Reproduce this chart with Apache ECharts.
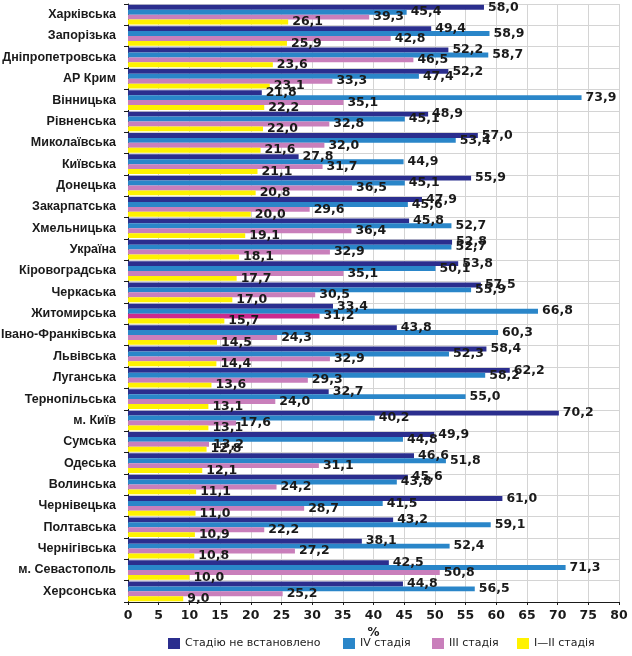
<!DOCTYPE html>
<html>
<head>
<meta charset="utf-8">
<script src="https://cdn.jsdelivr.net/npm/echarts@6/dist/echarts.min.js"></script>
<style>
html,body{margin:0;padding:0;background:#fff;}
#c{width:632px;height:656px;}
</style>
</head>
<body>
<div id="c"></div>
<script>
const categories = ['Харківська','Запорізька','Дніпропетровська','АР Крим','Вінницька','Рівненська','Миколаївська','Київська','Донецька','Закарпатська','Хмельницька','Україна','Кіровоградська','Черкаська','Житомирська','Івано-Франківська','Львівська','Луганська','Тернопільська','м. Київ','Сумська','Одеська','Волинська','Чернівецька','Полтавська','Чернігівська','м. Севастополь','Херсонська'];
const stageUnknown = [58.0,49.4,52.2,52.2,21.8,48.9,57.0,27.8,55.9,47.9,45.8,52.8,53.8,57.5,33.4,43.8,58.4,62.2,32.7,70.2,49.9,46.6,45.6,61.0,43.2,38.1,42.5,44.8];
const stageIV = [45.4,58.9,58.7,47.4,73.9,45.1,53.4,44.9,45.1,45.6,52.7,52.7,50.1,55.9,66.8,60.3,52.3,58.2,55.0,40.2,44.8,51.8,43.8,41.5,59.1,52.4,71.3,56.5];
const stageIII = [39.3,42.8,46.5,33.3,35.1,32.8,32.0,31.7,36.5,29.6,36.4,32.9,35.1,30.5,31.2,24.3,32.9,29.3,24.0,17.6,13.2,31.1,24.2,28.7,22.2,27.2,50.8,25.2];
const stageI_II = [26.1,25.9,23.6,23.1,22.2,22.0,21.6,21.1,20.8,20.0,19.1,18.1,17.7,17.0,15.7,14.5,14.4,13.6,13.1,13.1,12.8,12.1,11.1,11.0,10.9,10.8,10.0,9.0];
const seriesNames = ['Стадію не встановлено','IV стадія','III стадія','I—II стадія'];
const xTicks = [0,5,10,15,20,25,30,35,40,45,50,55,60,65,70,75,80];
const highlighted = 'Житомирська';

const colors = ['#2b2e8e','#2a86c9','#c97fbb','#fff200'];
const highlightPink = '#cc2a8e';
const fontLbl = '"DejaVu Sans", sans-serif';
const fontCat = '"Liberation Sans", Arial, sans-serif';

function mkSeries(name, values, color, highlightColor) {
  return {
    name: name,
    type: 'bar',
    barGap: '0%',
    barCategoryGap: '8%',
    itemStyle: { color: color },
    data: values.map((v, i) => {
      if (highlightColor && categories[i] === highlighted) {
        return { value: v, itemStyle: { color: highlightColor } };
      }
      return v;
    }),
    label: {
      show: true,
      position: 'right',
      distance: 4,
      color: '#1a1a1a',
      fontFamily: fontLbl,
      fontWeight: 'bold',
      fontSize: 12.5,
      formatter: p => p.value.toFixed(1).replace('.', ',')
    }
  };
}

const chart = echarts.init(document.getElementById('c'), null, {renderer: 'canvas'});
const legendLeft = [163, 338, 427, 512];
chart.setOption({
  animation: false,
  color: colors,
  grid: { left: 128, right: 13, top: 4, bottom: 54, containLabel: false, outerBoundsMode: 'none' },
  legend: seriesNames.map((n, i) => ({
    data: [n],
    left: legendLeft[i],
    top: 633,
    itemWidth: 12,
    itemHeight: 11,
    icon: 'rect',
    textStyle: { fontFamily: fontLbl, fontSize: 11, color: '#222' },
    selectedMode: false
  })),
  xAxis: {
    type: 'value',
    min: 0, max: 80, interval: 5,
    name: '%',
    nameLocation: 'middle',
    nameGap: 16,
    nameTextStyle: { fontFamily: fontLbl, fontWeight: 'bold', fontSize: 12, color: '#1a1a1a' },
    axisLine: { show: true, lineStyle: { color: '#1a1a1a', width: 1 } },
    axisTick: { show: true, length: 3, lineStyle: { color: '#1a1a1a' } },
    axisLabel: {
      fontFamily: fontLbl, fontWeight: 'bold', fontSize: 12.5, color: '#1a1a1a', margin: 7,
      formatter: v => xTicks.includes(v) ? String(v) : ''
    },
    splitLine: { show: true, lineStyle: { color: '#d4d4d4', width: 1 } }
  },
  yAxis: {
    type: 'category',
    data: categories,
    inverse: true,
    axisLine: { show: true, lineStyle: { color: '#1a1a1a', width: 1 } },
    axisTick: { show: true, length: 4, lineStyle: { color: '#1a1a1a' } },
    axisLabel: { fontFamily: fontCat, fontWeight: 'bold', fontSize: 12.5, color: '#1a1a1a', margin: 12 },
    splitLine: { show: true, lineStyle: { color: '#d4d4d4', width: 1 } }
  },
  series: [
    mkSeries(seriesNames[0], stageUnknown, colors[0]),
    mkSeries(seriesNames[1], stageIV, colors[1]),
    mkSeries(seriesNames[2], stageIII, colors[2], highlightPink),
    mkSeries(seriesNames[3], stageI_II, colors[3])
  ]
});
</script>
</body>
</html>
